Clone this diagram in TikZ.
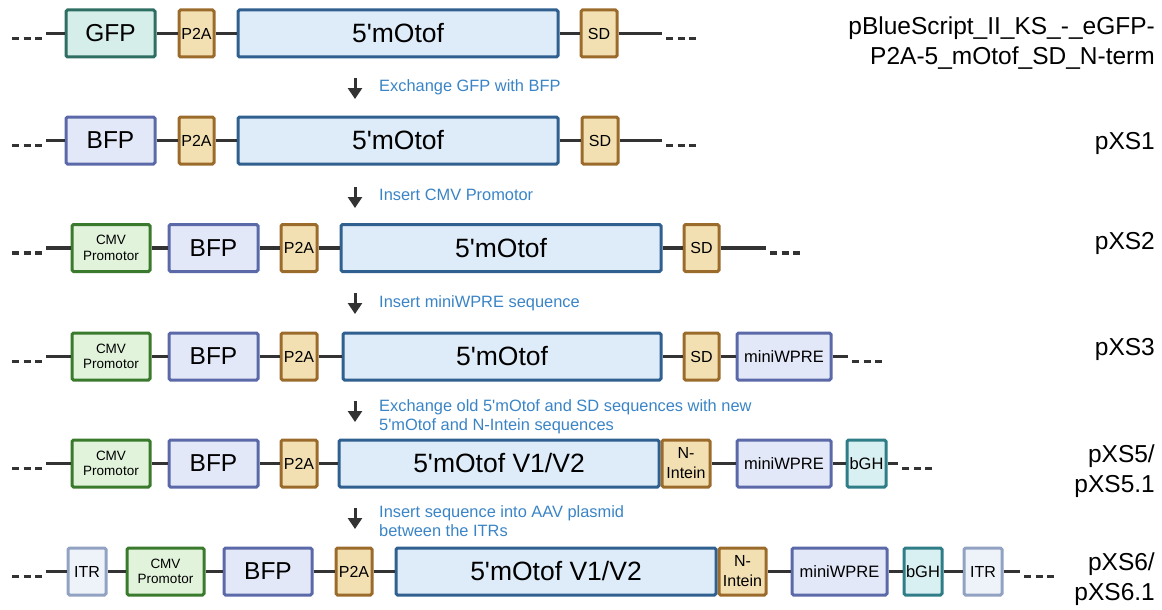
\documentclass[tikz,border=0pt]{standalone}
\usepackage{fontspec}
\setmainfont{Liberation Sans}[Ligatures=TeXOff]
\usetikzlibrary{arrows.meta}

\definecolor{gfpfill}{HTML}{D5EEEA}
\definecolor{gfpline}{HTML}{2F6E62}
\definecolor{linkfill}{HTML}{F2E0B2}
\definecolor{linkline}{HTML}{9B6B2C}
\definecolor{otoffill}{HTML}{DEEBF8}
\definecolor{otofline}{HTML}{2F6090}
\definecolor{bfpfill}{HTML}{E3E8F9}
\definecolor{bfpline}{HTML}{5B69A9}
\definecolor{cmvfill}{HTML}{E1F3DB}
\definecolor{cmvline}{HTML}{3A7A2C}
\definecolor{bghfill}{HTML}{D9F0F3}
\definecolor{bghline}{HTML}{2F7E87}
\definecolor{itrfill}{HTML}{EEF3FA}
\definecolor{itrline}{HTML}{92A2C2}
\definecolor{noteblue}{HTML}{3A84C6}
\definecolor{backgray}{HTML}{333333}

\begin{document}
\begin{tikzpicture}[x=1pt,y=-1pt,
  part/.style={draw, line width=3pt, rounded corners=1.5pt, inner sep=0pt,
    minimum height=47pt, align=center, text=black},
  gfp/.style={part, fill=gfpfill, draw=gfpline, font=\fontsize{24.5}{26}\selectfont},
  bfp/.style={part, fill=bfpfill, draw=bfpline, font=\fontsize{24.5}{26}\selectfont},
  otof/.style={part, fill=otoffill, draw=otofline, font=\fontsize{26.5}{28}\selectfont},
  link/.style={part, fill=linkfill, draw=linkline, font=\fontsize{16}{20}\selectfont},
  cmv/.style={part, fill=cmvfill, draw=cmvline, font=\fontsize{13.5}{15.5}\selectfont},
  wpre/.style={part, fill=bfpfill, draw=bfpline, font=\fontsize{16.5}{18}\selectfont},
  bgh/.style={part, fill=bghfill, draw=bghline, font=\fontsize{16.5}{18}\selectfont},
  itr/.style={part, fill=itrfill, draw=itrline, font=\fontsize{16}{18}\selectfont},
  backbone/.style={line width=3.2pt, draw=backgray},
  dots/.style={line width=3.2pt, draw=backgray, dash pattern=on 7pt off 4.5pt},
  flow/.style={line width=3pt, draw=backgray, -{Triangle[width=14pt,length=11pt]}},
  note/.style={text=noteblue, font=\fontsize{16.4}{19}\selectfont, align=left,
    anchor=base west, inner sep=0pt},
  plasmid/.style={font=\fontsize{24.5}{30}\selectfont, align=right,
    anchor=base east, inner sep=0pt}]

  \useasboundingbox (0,0) rectangle (1162,610);

  % pBlueScript
  \node [gfp, minimum width=89pt] (gfp1) at (110.5,33.5) {GFP};
  \node [link, minimum width=35pt] (p2a1) at (196.5,33.5) {P2A};
  \node [otof, minimum width=320pt] (otof1) at (398,33.5) {5'mOtof};
  \node [link, minimum width=36pt] (sd1) at (599,33.5) {SD};
  \coordinate (s1) at (46,33.5);
  \coordinate (e1) at (662,33.5);
  \draw [backbone] (s1) -- (gfp1) -- (p2a1) -- (otof1) -- (sd1) -- (e1);
  \draw [dots] (12,38.5) -- (42,38.5);
  \draw [dots] (666,38.5) -- (696,38.5);
  \node [plasmid] (lab1) at (1155,65) {pBlueScript\_II\_KS\_-\_eGFP-\\P2A-5\_mOtof\_SD\_N-term};

  \coordinate (a1t) at (355,78);
  \coordinate (a1b) at (355,99);
  \draw [flow] (a1t) -- (a1b);
  \node [note] (n1) at (379,92) {Exchange GFP with BFP};

  % pXS1
  \node [bfp, minimum width=89pt] (bfp2) at (110.5,140.5) {BFP};
  \node [link, minimum width=35pt] (p2a2) at (196.5,140.5) {P2A};
  \node [otof, minimum width=320pt] (otof2) at (398,140.5) {5'mOtof};
  \node [link, minimum width=36pt] (sd2) at (600,140.5) {SD};
  \coordinate (s2) at (46,140.5);
  \coordinate (e2) at (662,140.5);
  \draw [backbone] (s2) -- (bfp2) -- (p2a2) -- (otof2) -- (sd2) -- (e2);
  \draw [dots] (12,145.5) -- (42,145.5);
  \draw [dots] (666,145.5) -- (696,145.5);
  \node [plasmid] (lab2) at (1155,149) {pXS1};

  \coordinate (a2t) at (355,187);
  \coordinate (a2b) at (355,208);
  \draw [flow] (a2t) -- (a2b);
  \node [note] (n2) at (379,200) {Insert CMV Promotor};

  % pXS2
  \node [cmv, minimum width=78pt] (cmv3) at (111,248) {CMV\\Promotor};
  \node [bfp, minimum width=89pt] (bfp3) at (213.5,248) {BFP};
  \node [link, minimum width=36pt] (p2a3) at (299,248) {P2A};
  \node [otof, minimum width=320pt] (otof3) at (501,248) {5'mOtof};
  \node [link, minimum width=35pt] (sd3) at (701.5,248) {SD};
  \coordinate (s3) at (46,248);
  \coordinate (e3) at (766,248);
  \draw [backbone] (s3) -- (cmv3) -- (bfp3) -- (p2a3) -- (otof3) -- (sd3) -- (e3);
  \draw [dots] (12,253) -- (42,253);
  \draw [dots] (770,253) -- (800,253);
  \node [plasmid] (lab3) at (1155,249) {pXS2};

  \coordinate (a3t) at (355,293);
  \coordinate (a3b) at (355,314);
  \draw [flow] (a3t) -- (a3b);
  \node [note] (n3) at (379,307) {Insert miniWPRE sequence};

  % pXS3
  \node [cmv, minimum width=78pt] (cmv4) at (111,356.5) {CMV\\Promotor};
  \node [bfp, minimum width=89pt] (bfp4) at (213.5,356.5) {BFP};
  \node [link, minimum width=36pt] (p2a4) at (299,356.5) {P2A};
  \node [otof, minimum width=318pt] (otof4) at (502,356.5) {5'mOtof};
  \node [link, minimum width=35pt] (sd4) at (701.5,356.5) {SD};
  \node [wpre, minimum width=94pt] (wpre4) at (784,356.5) {miniWPRE};
  \coordinate (s4) at (46,356.5);
  \coordinate (e4) at (848,356.5);
  \draw [backbone] (s4) -- (cmv4) -- (bfp4) -- (p2a4) -- (otof4) -- (sd4) -- (wpre4) -- (e4);
  \draw [dots] (12,361.5) -- (42,361.5);
  \draw [dots] (852,361.5) -- (882,361.5);
  \node [plasmid] (lab4) at (1155,355) {pXS3};

  \coordinate (a4t) at (355,401);
  \coordinate (a4b) at (355,422);
  \draw [flow] (a4t) -- (a4b);
  \node [note] (n4) at (379,430) {Exchange old 5'mOtof and SD sequences with new\\5'mOtof and N-Intein sequences};

  % pXS5
  \node [cmv, minimum width=78pt] (cmv5) at (111,463.5) {CMV\\Promotor};
  \node [bfp, minimum width=89pt] (bfp5) at (213.5,463.5) {BFP};
  \node [link, minimum width=36pt] (p2a5) at (299,463.5) {P2A};
  \node [otof, minimum width=320pt] (otof5) at (499,463.5) {5'mOtof V1/V2};
  \node [link, minimum width=48pt] (nint5) at (686,463.5) {N-\\Intein};
  \node [wpre, minimum width=94pt] (wpre5) at (784,463.5) {miniWPRE};
  \node [bgh, minimum width=39pt] (bgh5) at (866.5,463.5) {bGH};
  \coordinate (s5) at (46,463.5);
  \coordinate (e5) at (898,463.5);
  \draw [backbone] (s5) -- (cmv5) -- (bfp5) -- (p2a5) -- (otof5);
  \draw [backbone] (nint5) -- (wpre5) -- (bgh5) -- (e5);
  \draw [dots] (12,468.5) -- (42,468.5);
  \draw [dots] (902,468.5) -- (932,468.5);
  \node [plasmid] (lab5) at (1155,492) {pXS5/\\pXS5.1};

  \coordinate (a5t) at (355,508);
  \coordinate (a5b) at (355,529);
  \draw [flow] (a5t) -- (a5b);
  \node [note] (n5) at (379,536) {Insert sequence into AAV plasmid\\between the ITRs};

  % pXS6
  \node [itr, minimum width=38pt] (itr6) at (87,571.5) {ITR};
  \node [cmv, minimum width=77pt] (cmv6) at (165.5,571.5) {CMV\\Promotor};
  \node [bfp, minimum width=88pt] (bfp6) at (268,571.5) {BFP};
  \node [link, minimum width=36pt] (p2a6) at (354,571.5) {P2A};
  \node [otof, minimum width=320pt] (otof6) at (556,571.5) {5'mOtof V1/V2};
  \node [link, minimum width=47pt] (nint6) at (742.5,571.5) {N-\\Intein};
  \node [wpre, minimum width=95pt] (wpre6) at (839.5,571.5) {miniWPRE};
  \node [bgh, minimum width=38pt] (bgh6) at (923,571.5) {bGH};
  \node [itr, minimum width=38pt] (itr6b) at (983,571.5) {ITR};
  \coordinate (s6) at (46,571.5);
  \coordinate (e6) at (1020,571.5);
  \draw [backbone] (s6) -- (itr6) -- (cmv6) -- (bfp6) -- (p2a6) -- (otof6);
  \draw [backbone] (nint6) -- (wpre6) -- (bgh6) -- (itr6b) -- (e6);
  \draw [dots] (12,576.5) -- (42,576.5);
  \draw [dots] (1024,576.5) -- (1054,576.5);
  \node [plasmid] (lab6) at (1155,600) {pXS6/\\pXS6.1};
\end{tikzpicture}
\end{document}
